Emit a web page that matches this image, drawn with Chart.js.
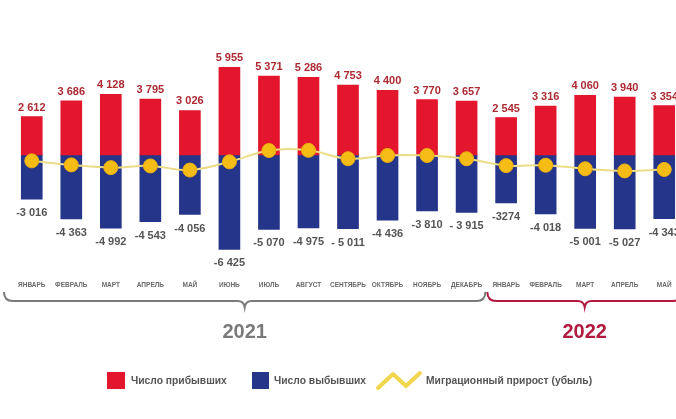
<!DOCTYPE html>
<html>
<head>
<meta charset="utf-8">
<script src="https://cdn.jsdelivr.net/npm/chart.js@4.4.1/dist/chart.umd.min.js"></script>
<style>
  html, body { margin: 0; padding: 0; background: #fff; overflow: hidden; }
  #wrap { width: 676px; height: 419px; overflow: hidden; position: relative; }
  canvas { display: block; }
</style>
</head>
<body>
<div id="wrap"><canvas id="c" width="700" height="419"></canvas></div>
<script>
const months = ['ЯНВАРЬ','ФЕВРАЛЬ','МАРТ','АПРЕЛЬ','МАЙ','ИЮНЬ','ИЮЛЬ','АВГУСТ','СЕНТЯБРЬ','ОКТЯБРЬ','НОЯБРЬ','ДЕКАБРЬ','ЯНВАРЬ','ФЕВРАЛЬ','МАРТ','АПРЕЛЬ','МАЙ'];
const arrivals = [2612, 3686, 4128, 3795, 3026, 5955, 5371, 5286, 4753, 4400, 3770, 3657, 2545, 3316, 4060, 3940, 3354];
const departures = [-3016, -4363, -4992, -4543, -4056, -6425, -5070, -4975, -5011, -4436, -3810, -3915, -3274, -4018, -5001, -5027, -4343];
const netMigration = [-404, -677, -864, -748, -1030, -470, 301, 311, -258, -36, -40, -258, -729, -702, -941, -1087, -989];
const arrivalLabels = ['2 612','3 686','4 128','3 795','3 026','5 955','5 371','5 286','4 753','4 400','3 770','3 657','2 545','3 316','4 060','3 940','3 354'];
const departureLabels = ['-3 016','-4 363','-4 992','-4 543','-4 056','-6 425','-5 070','-4 975','- 5 011','-4 436','-3 810','- 3 915','-3274','-4 018','-5 001','-5 027','-4 343'];
const years = [
  { label: '2021', from: 0, to: 11, color: '#7a7a7a' },
  { label: '2022', from: 12, to: 17, color: '#b3193e' }
];
const legendItems = ['Число прибывших', 'Число выбывших', 'Миграционный прирост (убыль)'];

const RED = '#e3162d', BLUE = '#25358a', YELLOW = '#f5bc16';
const FONT = '"Liberation Sans", Arial, sans-serif';

function brace(ctx, x0, x1, tip, y, color) {
  ctx.save();
  ctx.strokeStyle = color;
  ctx.lineWidth = 2;
  ctx.beginPath();
  ctx.moveTo(x0, y - 9);
  ctx.quadraticCurveTo(x0, y, x0 + 9, y);
  ctx.lineTo(tip - 7, y);
  ctx.quadraticCurveTo(tip - 1, y, tip, y + 6);
  ctx.quadraticCurveTo(tip + 1, y, tip + 7, y);
  ctx.lineTo(x1 - 9, y);
  ctx.quadraticCurveTo(x1, y, x1, y - 9);
  ctx.stroke();
  ctx.restore();
}

const decor = {
  id: 'decor',
  afterDatasetsDraw(chart) {
    const ctx = chart.ctx;
    const xs = chart.scales.x;
    const redMeta = chart.getDatasetMeta(0);
    const blueMeta = chart.getDatasetMeta(1);
    ctx.save();
    ctx.textAlign = 'center';
    ctx.textBaseline = 'alphabetic';
    ctx.font = 'bold 11px ' + FONT;
    redMeta.data.forEach((bar, i) => {
      ctx.fillStyle = '#ad2a33';
      ctx.fillText(arrivalLabels[i], bar.x, bar.y - 6);
    });
    blueMeta.data.forEach((bar, i) => {
      ctx.fillStyle = '#555';
      ctx.fillText(departureLabels[i], bar.x, bar.y + 17);
    });
    // month labels
    ctx.font = 'bold 6.5px ' + FONT;
    ctx.fillStyle = '#6a6a6a';
    ctx.textBaseline = 'middle';
    months.forEach((m, i) => {
      ctx.fillText(m, xs.getPixelForValue(i), 285);
    });
    // braces + years
    const half = (xs.getPixelForValue(1) - xs.getPixelForValue(0)) / 2;
    years.forEach((y, k) => {
      const x0 = k === 0 ? 4 : xs.getPixelForValue(y.from) - half + 1;
      const x1 = k === 0 ? xs.getPixelForValue(y.to) + half - 1 : xs.getPixelForValue(y.to - 1) + half - 2;
      const tip = (x0 + x1) / 2;
      brace(ctx, x0, x1, tip, 301, y.color);
      ctx.font = 'bold 20px ' + FONT;
      ctx.fillStyle = y.color;
      ctx.textBaseline = 'middle';
      ctx.fillText(y.label, tip, 332);
    });
    // legend
    ctx.textAlign = 'left';
    ctx.textBaseline = 'middle';
    ctx.font = 'bold 10.3px ' + FONT;
    ctx.fillStyle = RED;
    ctx.fillRect(107, 372, 18, 17);
    ctx.fillStyle = '#555';
    ctx.fillText(legendItems[0], 131, 381);
    ctx.fillStyle = BLUE;
    ctx.fillRect(252, 372, 17, 17);
    ctx.fillStyle = '#555';
    ctx.fillText(legendItems[1], 274, 381);
    ctx.strokeStyle = '#f1d54c';
    ctx.lineWidth = 4;
    ctx.lineJoin = 'round';
    ctx.lineCap = 'round';
    ctx.beginPath();
    ctx.moveTo(378, 388);
    ctx.lineTo(393, 374);
    ctx.lineTo(406, 386);
    ctx.lineTo(420, 373);
    ctx.stroke();
    ctx.fillStyle = '#555';
    ctx.fillText(legendItems[2], 426, 381);
    ctx.restore();
  }
};

new Chart(document.getElementById('c'), {
  type: 'bar',
  data: {
    labels: months,
    datasets: [
      { label: legendItems[0], data: arrivals, backgroundColor: RED, barThickness: 21, order: 1 },
      { label: legendItems[1], data: departures, backgroundColor: BLUE, barThickness: 21, order: 1 },
      {
        type: 'line', label: legendItems[2], data: netMigration, order: 0,
        borderColor: '#ebdc86', borderWidth: 2, tension: 0.4,
        pointRadius: 7, pointBackgroundColor: YELLOW, pointBorderColor: '#eeb010', pointBorderWidth: 1
      }
    ]
  },
  options: {
    responsive: false,
    animation: false,
    devicePixelRatio: 1,
    layout: { padding: { left: 12, right: 16, top: 60, bottom: 159 } },
    plugins: { legend: { display: false }, tooltip: { enabled: false } },
    scales: {
      x: { display: false, stacked: true, grid: { display: false } },
      y: { display: false, stacked: false, min: -7150, max: 6460 }
    }
  },
  plugins: [decor]
});
</script>
</body>
</html>
